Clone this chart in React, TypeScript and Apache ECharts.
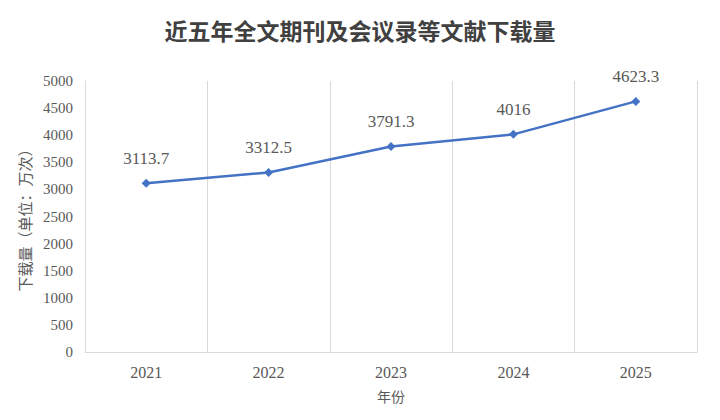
import React, { useEffect, useRef } from "react";
import * as echarts from "echarts";

const title = "近五年全文期刊及会议录等文献下载量";
const years = ["2021", "2022", "2023", "2024", "2025"];
const downloads = [3113.7, 3312.5, 3791.3, 4016, 4623.3];
const yAxisName = "下载量（单位：万次）";
const xAxisName = "年份";

export default function App() {
  const ref = useRef<HTMLDivElement>(null);
  useEffect(() => {
    if (!ref.current) return;
    const chart = echarts.init(ref.current, undefined, { renderer: "svg" });
    const serif = "Liberation Serif";
    const cjk = "Noto Sans CJK SC";
    chart.setOption({
      animation: false,
      backgroundColor: "#ffffff",
      title: {
        text: title,
        left: "center",
        top: 13,
        textStyle: {
          fontSize: 23,
          fontWeight: "bold",
          color: "#404040",
          fontFamily: cjk,
        },
      },
      grid: { left: 85, right: 23, top: 81, bottom: 68 },
      xAxis: {
        type: "category",
        data: years,
        boundaryGap: true,
        name: xAxisName,
        nameLocation: "middle",
        nameGap: 37,
        nameTextStyle: { fontSize: 14, color: "#595959", fontFamily: cjk },
        axisLine: { show: true, lineStyle: { color: "#d9d9d9", width: 1 } },
        axisTick: { show: false },
        axisLabel: { fontSize: 16, color: "#595959", fontFamily: serif, margin: 12 },
        splitLine: { show: true, lineStyle: { color: "#d9d9d9", width: 1 } },
      },
      yAxis: {
        type: "value",
        min: 0,
        max: 5000,
        interval: 500,
        name: yAxisName,
        nameLocation: "middle",
        nameGap: 48,
        nameRotate: 90,
        nameTextStyle: { fontSize: 15, color: "#595959", fontFamily: cjk },
        axisLine: { show: true, lineStyle: { color: "#d9d9d9", width: 1 } },
        axisTick: { show: false },
        axisLabel: {
          fontSize: 15,
          color: "#595959",
          fontFamily: serif,
          margin: 12,
          formatter: (v: number) => String(v),
        },
        splitLine: { show: false },
      },
      series: [
        {
          type: "line",
          data: downloads,
          symbol: "diamond",
          symbolSize: 9,
          lineStyle: { color: "#4472C4", width: 2.5 },
          itemStyle: { color: "#4472C4" },
          label: {
            show: true,
            position: "top",
            distance: 12,
            fontSize: 17,
            color: "#595959",
            fontFamily: serif,
          },
        },
      ],
    });
    return () => chart.dispose();
  }, []);
  return (
    <div
      ref={ref}
      style={{ position: "absolute", left: 0, top: 0, width: 720, height: 420 }}
    />
  );
}
